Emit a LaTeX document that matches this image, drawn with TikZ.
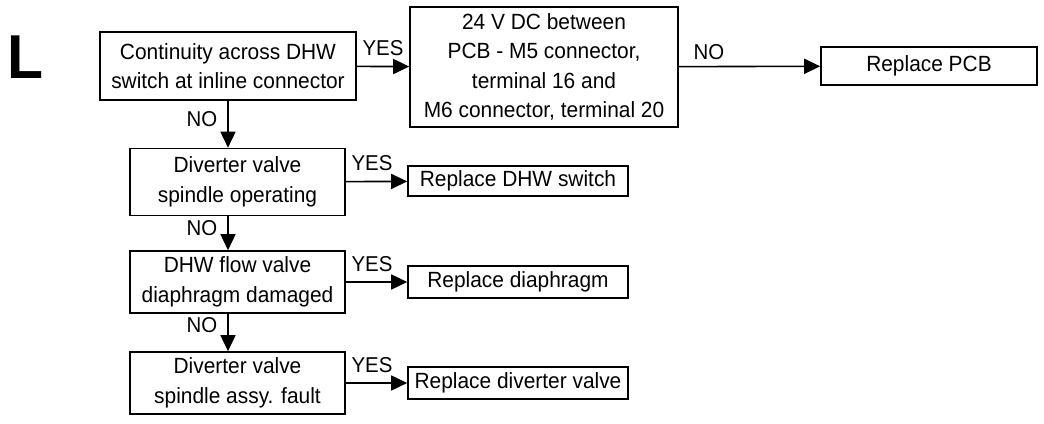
\documentclass[tikz,border=0pt]{standalone}
\usepackage{fontspec}
\setmainfont[FakeStretch=0.95]{Liberation Sans}
\usepackage{tikz}
\usetikzlibrary{arrows.meta,positioning,calc}

\tikzset{
  chkbox/.style={draw, line width=1.6pt, align=center, inner sep=0pt,
    font=\fontsize{22}{29.5}\selectfont},
  flowline/.style={line width=1.6pt, -{Triangle[length=16pt,width=15pt]}},
  ans/.style={font=\fontsize{21.5}{24}\selectfont, inner sep=0pt},
  yes/.style={ans, pos=0, anchor=base west, xshift=5pt, yshift=11pt},
  no/.style={ans, pos=0, anchor=north east, xshift=-10pt}
}

\begin{document}
\begin{tikzpicture}[x=1pt, y=-1pt]
\useasboundingbox (0,0) rectangle (1044,423);

% Section letter
\node[anchor=base west, inner sep=0pt, font=\bfseries\fontsize{62}{62}\selectfont] (sect) at (7,78) {L};

% Top row
\node[chkbox, minimum width=256pt, minimum height=68pt] (cont) at (228,66) {Continuity across DHW\\switch at inline connector};
\node[chkbox, minimum width=268pt, minimum height=120pt] (volt) at (544,67) {24 V DC between\\PCB - M5 connector,\\terminal 16 and\\M6 connector, terminal 20};
\node[chkbox, minimum width=216pt, minimum height=38pt] (pcb) at (929,66) {Replace PCB};

% Checks down the left
\node[chkbox, minimum width=215pt, minimum height=67pt] (spin) at (237.5,182) {Diverter valve\\spindle operating};
\node[chkbox, minimum width=215pt, minimum height=62pt] (flow) at (237.5,282) {DHW flow valve\\diaphragm damaged};
\node[chkbox, minimum width=215pt, minimum height=62pt] (assy) at (237.5,383) {Diverter valve\\spindle assy. fault};

% Remedies
\node[chkbox, minimum width=220pt, minimum height=30pt] (dhwsw) at (518,181) {Replace DHW switch};
\node[chkbox, minimum width=220pt, minimum height=32pt] (diaph) at (518,282) {Replace diaphragm};
\node[chkbox, minimum width=220pt, minimum height=32pt] (divv) at (518,383) {Replace diverter valve};

% Connections
\draw[flowline] (cont) -- node[yes]{YES} (volt);
\draw[flowline] (volt) -- node[ans, pos=0, anchor=base west, xshift=14pt, yshift=7pt]{NO} (pcb);
\draw[flowline] (cont.south) -- node[no, yshift=-10pt]{NO} (cont.south |- spin.north);
\draw[flowline] (cont.south |- spin.south) -- node[no, yshift=-3pt]{NO} (cont.south |- flow.north);
\draw[flowline] (cont.south |- flow.south) -- node[no, yshift=-3pt]{NO} (cont.south |- assy.north);
\draw[flowline] (spin) -- node[yes]{YES} (dhwsw);
\draw[flowline] (flow) -- node[yes]{YES} (diaph);
\draw[flowline] (assy) -- node[yes]{YES} (divv);

\end{tikzpicture}
\end{document}
